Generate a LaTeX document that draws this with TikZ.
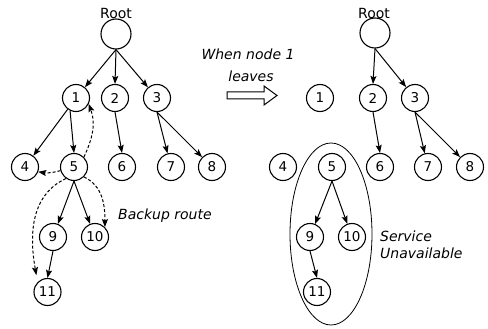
\documentclass[tikz,border=0pt]{standalone}
\usepackage{fontspec}
\setmainfont{DejaVu Sans}
\usetikzlibrary{arrows.meta}
\begin{document}
\begin{tikzpicture}[x=1pt,y=1pt,
  nd/.style={circle,draw,line width=1.1pt,minimum size=27pt,inner sep=0pt,font=\fontsize{13.5}{15}\selectfont},
  rootnd/.style={nd,minimum size=30pt},
  arr/.style={-{Stealth[length=8pt,width=6pt,inset=1.5pt]},line width=1pt},
  darr/.style={arr,dash pattern=on 3pt off 2pt},
  txt/.style={font=\fontsize{14}{16}\selectfont,inner sep=0pt},
  itxt/.style={font=\fontsize{14}{16}\selectfont\itshape,inner sep=0pt}
]
\useasboundingbox (0,0) rectangle (488,-329);

% ---------- left tree ----------
\node[txt] (rootLlbl) at (116,-13) {Root};
\node[rootnd] (rootL) at (116,-34) {};
\node[nd] (L1) at (76,-98) {1};
\node[nd] (L2) at (115,-98) {2};
\node[nd] (L3) at (157,-98) {3};
\node[nd] (L4) at (25,-167) {4};
\node[nd] (L5) at (74,-167) {5};
\node[nd] (L6) at (122,-167) {6};
\node[nd] (L7) at (171,-167) {7};
\node[nd] (L8) at (212,-167) {8};
\node[nd] (L9) at (53,-237) {9};
\node[nd] (L10) at (95,-237) {10};
\node[nd] (L11) at (47.5,-292) {11};

\draw[arr] (rootL.south) -- (L1);
\draw[arr] (rootL.south) -- (L2.north);
\draw[arr] (rootL.south) -- (L3);
\draw[arr] (L1) -- (L4);
\draw[arr] (L1.245) -- (L5.north);
\draw[arr] (L2.south) -- (L6.north);
\draw[arr] (L3.south) -- (L7);
\draw[arr] (L3.south) -- (L8);
\draw[arr] (L5.south) -- (L9);
\draw[arr] (L5.south) -- (L10);
\draw[arr] (L9.south) -- (L11.north);

\draw[darr] (L5.45) to[out=65,in=-70] (L1.-25);
\draw[darr] (L5.195) to[bend left=12] (L4.-20);
\draw[darr] (L5.-45) to[out=-25,in=90] (L10.45);
\draw[darr,shorten >=7pt] (L5.235) to[out=205,in=100] (L11.135);

\node[itxt,anchor=base west] (backup) at (118,-219) {Backup route};

% ---------- middle ----------
\node[itxt,anchor=base] (when) at (248,-60) {When node 1};
\node[itxt,anchor=base] (leaves) at (251,-82) {leaves};
\draw[line width=1pt,line join=miter] (227,-92) -- (264,-92) -- (264,-86) -- (277,-95.5) -- (264,-105) -- (264,-99) -- (227,-99) -- cycle;

% ---------- right tree ----------
\node[txt] (rootRlbl) at (374,-13) {Root};
\node[rootnd] (rootR) at (375,-33) {};
\node[nd] (R1) at (320,-98) {1};
\node[nd] (R2) at (373,-98) {2};
\node[nd] (R3) at (415,-98) {3};
\node[nd] (R4) at (283,-167) {4};
\node[nd] (R5) at (332,-167) {5};
\node[nd] (R6) at (380,-167) {6};
\node[nd] (R7) at (428,-167) {7};
\node[nd] (R8) at (470,-167) {8};
\node[nd] (R9) at (310,-237) {9};
\node[nd] (R10) at (352,-237) {10};
\node[nd] (R11) at (317,-292) {11};

\draw[arr] (rootR.south) -- (R2.north);
\draw[arr] (rootR.south) -- (R3);
\draw[arr] (R2.south) -- (R6.north);
\draw[arr] (R3.south) -- (R7);
\draw[arr] (R3.south) -- (R8);
\draw[arr] (R5.south) -- (R9);
\draw[arr] (R5.south) -- (R10);
\draw[arr] (R9.south) -- (R11.north);

\draw[line width=0.8pt] (331,-234) ellipse [x radius=41, y radius=91];

\node[itxt,anchor=base west] (svc) at (380,-241) {Service};
\node[itxt,anchor=base west] (unav) at (380,-258) {Unavailable};
\end{tikzpicture}
\end{document}
